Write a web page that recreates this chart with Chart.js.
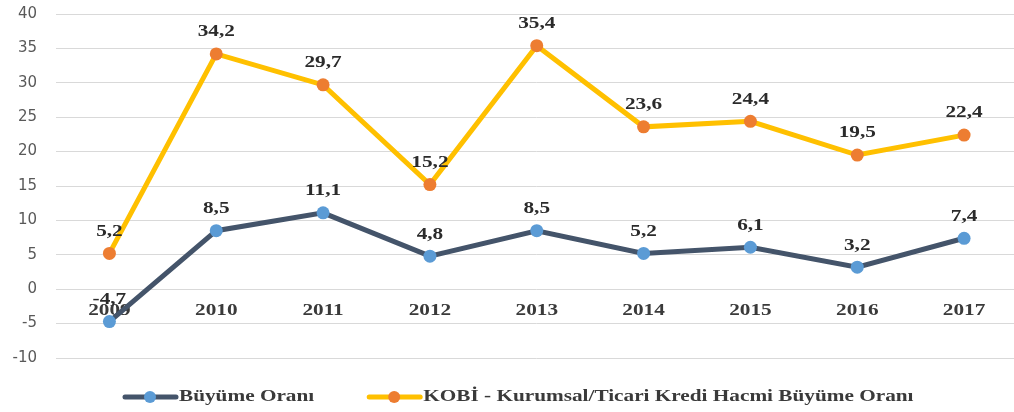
<!DOCTYPE html>
<html>
<head>
<meta charset="utf-8">
<script src="https://cdn.jsdelivr.net/npm/chart.js@4.4.0/dist/chart.umd.min.js"></script>
<style>
  html, body { margin: 0; padding: 0; background: #fff; overflow: hidden; }
  #wrap { width: 1024px; height: 412px; position: relative; }
</style>
</head>
<body>
<div id="wrap"><canvas id="grafik"></canvas></div>
<script>
const yillar = ['2009', '2010', '2011', '2012', '2013', '2014', '2015', '2016', '2017'];
const buyumeOrani = [-4.7, 8.5, 11.1, 4.8, 8.5, 5.2, 6.1, 3.2, 7.4];
const kobiKrediOrani = [5.2, 34.2, 29.7, 15.2, 35.4, 23.6, 24.4, 19.5, 22.4];
const yEtiketleri = [-10, -5, 0, 5, 10, 15, 20, 25, 30, 35, 40];

const serifFont = '"Liberation Serif", "Times New Roman", serif';
const germe = 1.25; // reference text is stretched horizontally

function yaziCiz(ctx, txt, x, y, size, color, align) {
  ctx.save();
  ctx.translate(x, y);
  ctx.scale(germe, 1);
  ctx.font = `bold ${size}px ${serifFont}`;
  ctx.fillStyle = color;
  ctx.textAlign = align || 'center';
  ctx.textBaseline = 'middle';
  ctx.fillText(txt, 0, 0);
  ctx.restore();
}

// year labels sit under the zero line, behind the series
const yilEtiketPlugin = {
  id: 'yilEtiket',
  beforeDatasetsDraw(chart) {
    const { ctx, scales } = chart;
    const y0 = scales.y.getPixelForValue(0) + 21;
    yillar.forEach((yil, i) => {
      yaziCiz(ctx, yil, scales.x.getPixelForValue(i), y0, 17, '#3a3a3a');
    });
  }
};

const degerEtiketPlugin = {
  id: 'degerEtiket',
  afterDatasetsDraw(chart) {
    const ctx = chart.ctx;
    chart.data.datasets.forEach((ds, di) => {
      const meta = chart.getDatasetMeta(di);
      meta.data.forEach((pt, i) => {
        const txt = ds.data[i].toFixed(1).replace('.', ',');
        yaziCiz(ctx, txt, pt.x, pt.y - 22, 17, '#2b2b2b');
      });
    });
  }
};

const lejantPlugin = {
  id: 'lejant',
  afterDraw(chart) {
    const ctx = chart.ctx;
    const y = 397;
    let x = 125;
    chart.data.datasets.forEach(ds => {
      ctx.save();
      ctx.strokeStyle = ds.borderColor;
      ctx.lineWidth = 5;
      ctx.lineCap = 'round';
      ctx.beginPath();
      ctx.moveTo(x, y);
      ctx.lineTo(x + 51, y);
      ctx.stroke();
      ctx.fillStyle = ds.pointBackgroundColor;
      ctx.beginPath();
      ctx.arc(x + 25, y, 6, 0, Math.PI * 2);
      ctx.fill();
      ctx.restore();
      const tx = x + 54;
      yaziCiz(ctx, ds.label, tx, y, 17, '#3a3a3a', 'left');
      ctx.save();
      ctx.font = `bold 17px ${serifFont}`;
      const w = ctx.measureText(ds.label).width * germe;
      ctx.restore();
      x = tx + w + 55;
    });
  }
};

new Chart(document.getElementById('grafik'), {
  type: 'line',
  data: {
    labels: yillar,
    datasets: [
      {
        label: 'Büyüme Oranı',
        data: buyumeOrani,
        borderColor: '#44546A',
        borderWidth: 5,
        pointBackgroundColor: '#5B9BD5',
        pointBorderWidth: 0,
        pointRadius: 6.5,
        tension: 0
      },
      {
        label: 'KOBİ - Kurumsal/Ticari Kredi Hacmi Büyüme Oranı',
        data: kobiKrediOrani,
        borderColor: '#FFC000',
        borderWidth: 5,
        pointBackgroundColor: '#ED7D31',
        pointBorderWidth: 0,
        pointRadius: 6.5,
        tension: 0
      }
    ]
  },
  options: {
    responsive: true,
    maintainAspectRatio: false,
    animation: false,
    layout: { padding: { top: 14, bottom: 54, right: 0, left: 0 } },
    plugins: { legend: { display: false }, tooltip: { enabled: false } },
    scales: {
      x: { display: false, offset: true },
      y: {
        min: -10,
        max: 40,
        afterFit(scale) { scale.width = 56; },
        afterBuildTicks(scale) { scale.ticks = yEtiketleri.map(v => ({ value: v })); },
        ticks: {
          stepSize: 5,
          padding: 2,
          color: '#595959',
          font: { family: '"DejaVu Sans", sans-serif', size: 15 }
        },
        grid: { color: '#D9D9D9', lineWidth: 1, drawTicks: true, tickLength: 17, tickColor: 'rgba(0,0,0,0)' },
        border: { display: false }
      }
    }
  },
  plugins: [yilEtiketPlugin, degerEtiketPlugin, lejantPlugin]
});
</script>
</body>
</html>
